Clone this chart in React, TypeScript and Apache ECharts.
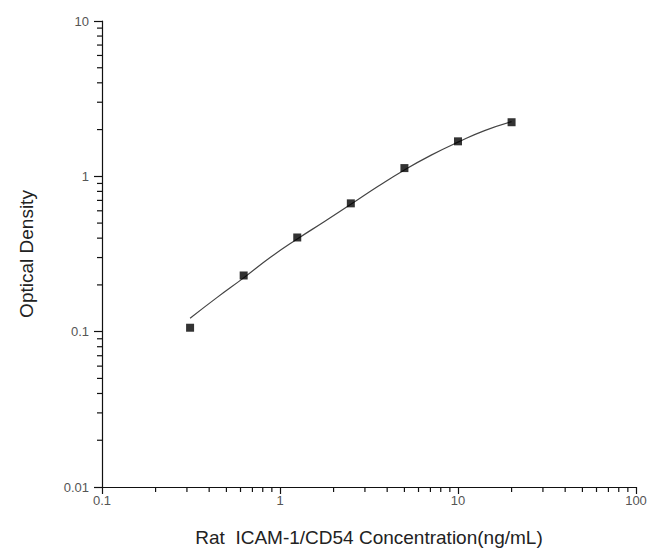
import React, { useEffect, useRef } from "react";
import * as echarts from "echarts";

const concentrations = [0.3125, 0.625, 1.25, 2.5, 5, 10, 20];
const odValues = [0.106, 0.23, 0.404, 0.67, 1.13, 1.68, 2.23];

const curveX = [0.3125, 0.44, 0.625, 0.88, 1.25, 1.77, 2.5, 3.54, 5, 7.07, 10, 14.1, 20];
const curveY = [0.122, 0.165, 0.222, 0.3, 0.395, 0.51, 0.66, 0.86, 1.1, 1.37, 1.66, 1.97, 2.25];

const xMinorTickValues = [0.2, 0.3, 0.4, 0.5, 0.6, 0.7, 0.8, 0.9, 2, 3, 4, 5, 6, 7, 8, 9, 20, 30, 40, 50, 60, 70, 80, 90];
const yMinorTickValues = [0.02, 0.03, 0.04, 0.05, 0.06, 0.07, 0.08, 0.09, 0.2, 0.3, 0.4, 0.5, 0.6, 0.7, 0.8, 0.9, 2, 3, 4, 5, 6, 7, 8, 9];

const xTitle = "Rat  ICAM-1/CD54 Concentration(ng/mL)";
const yTitle = "Optical Density";

export default function App() {
  const ref = useRef<HTMLDivElement>(null);
  useEffect(() => {
    if (!ref.current) return;
    const chart = echarts.init(ref.current, null, { renderer: "svg" });
    chart.setOption({
      animation: false,
      backgroundColor: "#ffffff",
      textStyle: { fontFamily: "Liberation Sans, Arial, sans-serif" },
      grid: { left: 102, right: 15, top: 21, bottom: 69, containLabel: false },
      xAxis: {
        type: "log",
        logBase: 10,
        min: 0.1,
        max: 100,
        name: xTitle,
        nameLocation: "middle",
        nameGap: 41,
        nameTextStyle: { fontSize: 19, color: "#222" },
        axisLine: { lineStyle: { color: "#111", width: 1.2 } },
        axisTick: { show: true, inside: false, length: 7, lineStyle: { color: "#111", width: 1.2 } },
        axisLabel: { fontSize: 13, color: "#555", margin: 7 },
        splitLine: { show: false },
        minorTick: { show: false },
      },
      yAxis: {
        type: "log",
        logBase: 10,
        min: 0.01,
        max: 10,
        name: yTitle,
        nameLocation: "middle",
        nameGap: 66,
        nameRotate: 90,
        nameTextStyle: { fontSize: 19, color: "#222" },
        axisLine: { show: true, lineStyle: { color: "#111", width: 1.2 } },
        axisTick: { show: true, inside: false, length: 8, lineStyle: { color: "#111", width: 1.2 } },
        axisLabel: { fontSize: 13, color: "#555", margin: 13 },
        splitLine: { show: false },
        minorTick: { show: false },
      },
      series: [
        {
          type: "line",
          data: curveX.map((x, i) => [x, curveY[i]]),
          smooth: true,
          showSymbol: false,
          symbol: "none",
          lineStyle: { color: "#444", width: 1.2 },
          z: 2,
        },
        {
          type: "scatter",
          data: concentrations.map((x, i) => [x, odValues[i]]),
          symbol: "rect",
          symbolSize: 8,
          itemStyle: { color: "#000" },
          z: 3,
        },
      ],
    });
    const ticks: any[] = [];
    xMinorTickValues.forEach((v) => {
      const p = chart.convertToPixel({ gridIndex: 0 }, [v, 0.01]) as number[];
      if (p && isFinite(p[0])) {
        ticks.push({
          type: "line",
          shape: { x1: p[0], y1: p[1], x2: p[0], y2: p[1] + 5 },
          style: { stroke: "#111", lineWidth: 1.2 },
          silent: true,
          z: 100,
        });
      }
    });
    yMinorTickValues.forEach((v) => {
      const p = chart.convertToPixel({ gridIndex: 0 }, [0.1, v]) as number[];
      if (p && isFinite(p[1])) {
        ticks.push({
          type: "line",
          shape: { x1: p[0] - 5, y1: p[1], x2: p[0], y2: p[1] },
          style: { stroke: "#111", lineWidth: 1.2 },
          silent: true,
          z: 100,
        });
      }
    });
    chart.setOption({ graphic: { elements: ticks } });
    return () => chart.dispose();
  }, []);
  return (
    <div
      ref={ref}
      style={{ position: "fixed", left: 0, top: 0, width: 651, height: 556, background: "#fff" }}
    />
  );
}
